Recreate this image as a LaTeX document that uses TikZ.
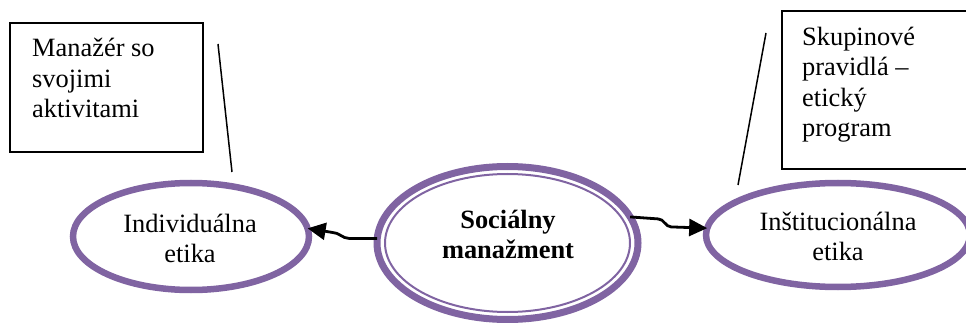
\documentclass[tikz,border=0pt]{standalone}
\usepackage{fontspec}
\setmainfont{Liberation Serif}
\usetikzlibrary{shapes.geometric,arrows.meta}
\definecolor{ringpurple}{HTML}{8064A2}
\tikzset{
  txt/.style={inner sep=0pt, align=left, font=\fontsize{26.4}{30.5}\selectfont},
  ctxt/.style={inner sep=0pt, align=center, font=\fontsize{26.4}{29.5}\selectfont},
  notebox/.style={draw=black, line width=1.6pt, inner sep=0pt},
  ring/.style={ellipse, draw=ringpurple, line width=6.5pt, inner sep=0pt, outer sep=0pt},
  leader/.style={draw=black, line width=1.5pt},
  link/.style={draw=black, line width=2.8pt, -{Triangle[length=18pt,width=17pt]}},
}
\begin{document}
\begin{tikzpicture}[x=1pt,y=-1pt]
\useasboundingbox (0,0) rectangle (966,323);

% note boxes
\node[notebox, minimum width=193pt, minimum height=129pt, anchor=north west] (mbox) at (9,22) {};
\node[notebox, minimum width=200pt, minimum height=158pt, anchor=north west] (gbox) at (781,10) {};
% multi-line nodes: the base anchor sits on the last line
\node[txt, anchor=base west] (mtext) at (32,118) {Manažér so\\svojimi\\aktivitami};
\node[txt, anchor=base west] (gtext) at (802,137) {Skupinové\\pravidlá –\\etický\\program};

% the three ellipses
\node[ring, minimum width=236pt, minimum height=107pt] (ind) at (191,236.5) {};
\node[ring, minimum width=264pt, minimum height=104pt] (inst) at (838,235) {};
\node[ring, line width=7pt, minimum width=261pt, minimum height=153pt] (soc) at (507.5,243) {};
\draw[ringpurple, line width=2pt] (soc.center) ellipse [x radius=122.5pt, y radius=69pt];

% labels inside the ellipses
\node[ctxt, anchor=base] (indt) at (190,262) {Individuálna\\etika};
\node[ctxt, anchor=base] (instt) at (838,260) {Inštitucionálna\\etika};
\node[ctxt, anchor=base, font=\fontsize{26.4}{30}\selectfont\bfseries] (soct) at (508,258) {Sociálny\\manažment};

% leader lines from the notes
\coordinate (la) at (218,44);
\coordinate (lb) at (232,172);
\coordinate (ra) at (766,33);
\coordinate (rb) at (738,185);
\draw[leader] (la) -- (lb);
\draw[leader] (ra) -- (rb);

% connectors
\draw[link] (soc.178) -- ++(-28,0) to[out=180,in=0] ++(-17,-6) -- (ind.4);
\draw[link] (soc.12) -- ++(28,2) to[out=0,in=180] ++(13,8) -- (inst.177);
\end{tikzpicture}
\end{document}
